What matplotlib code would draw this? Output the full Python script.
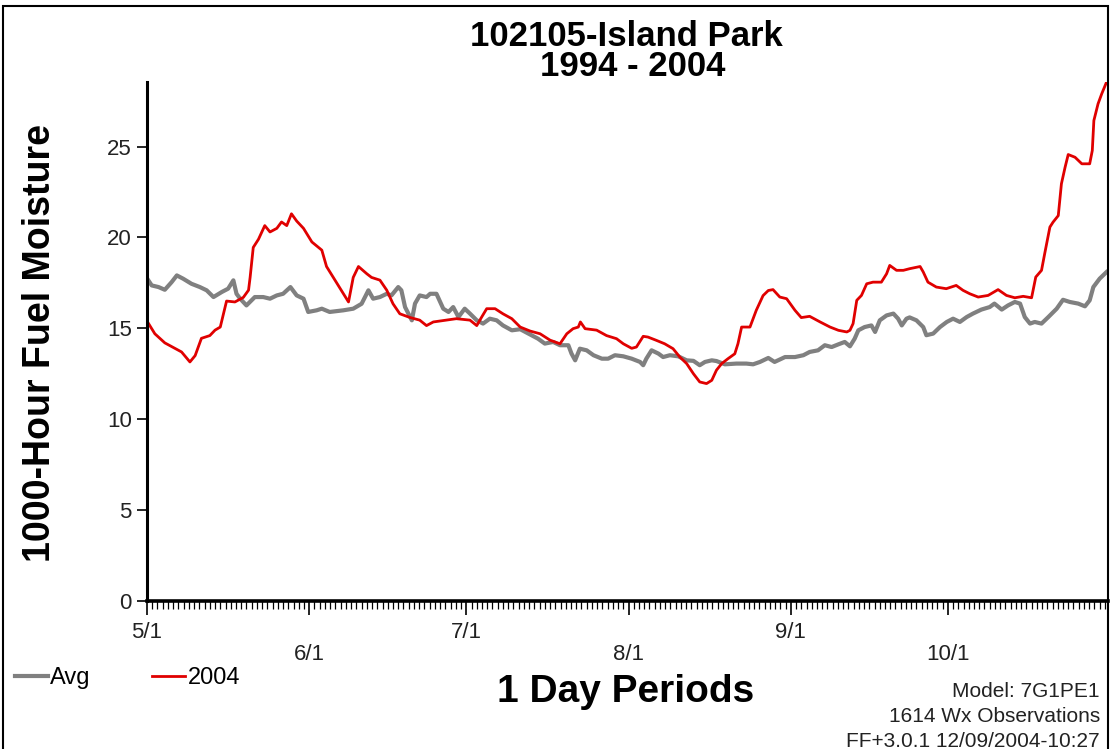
import matplotlib
matplotlib.use('Agg')
import matplotlib.pyplot as plt
import numpy as np
from matplotlib.patches import Rectangle

plt.rcParams['font.family'] = ['Liberation Sans', 'DejaVu Sans']

# days after May 1 and 1000-hour fuel moisture
avg_days = [0, 0.9, 2.2, 3.4, 4.7, 5.7, 6.9, 8.5, 10.1, 11.4, 12.7, 14.3, 15.5, 16.5,
            17.1, 17.8, 19, 20.6, 22.2, 23.5, 24.8, 26, 27.4, 28.6, 29.9, 30.8, 32.4,
            33.4, 34.9, 37.5, 39.4, 41, 42.3, 43.2, 44.5, 45.8, 46.7, 48, 48.6, 49.3,
            50.6, 51.2, 52.1, 53.4, 54.1, 55.3, 56.6, 57.6, 58.5, 59.5, 60.7, 61.7, 63,
            64.2, 65.5, 66.8, 68, 69.7, 71.3, 73.2, 74.7, 76, 77.6, 78.9, 80.5, 81.1,
            81.8, 82.7, 84, 85.3, 86.9, 88.1, 89.4, 91, 92.6, 94.2, 94.8, 95.4, 96.4,
            97.7, 98.6, 99.9, 101.5, 103.1, 104.4, 105.6, 106.6, 107.9, 108.8, 110.4,
            112.6, 114.5, 115.8, 117.1, 118.7, 119.9, 121.9, 123.8, 125.4, 126.6, 128.2,
            129.5, 130.8, 132.1, 133.3, 134.3, 135.2, 135.9, 137.1, 138.4, 139.1, 140,
            141.3, 142.6, 143.5, 144.2, 145.1, 145.7, 147, 148.3, 148.9, 150.2, 151.5,
            152.8, 154, 155.3, 156.6, 157.8, 159.4, 161, 161.9, 163.3, 164.5, 165.8,
            166.8, 167.7, 168.7, 169.6, 170.9, 172.2, 173.8, 175, 176.3, 177.9, 179.2,
            180.1, 180.8, 182, 183.3]
avg_vals = [17.75, 17.36, 17.27, 17.12, 17.54, 17.91, 17.73, 17.45, 17.27, 17.09, 16.72,
            17.0, 17.18, 17.64, 16.9, 16.63, 16.26, 16.72, 16.72, 16.63, 16.81, 16.9,
            17.27, 16.81, 16.63, 15.9, 15.99, 16.08, 15.9, 15.99, 16.08, 16.35, 17.09,
            16.63, 16.72, 16.9, 16.81, 17.27, 17.09, 16.17, 15.44, 16.36, 16.81, 16.72,
            16.9, 16.9, 16.08, 15.9, 16.17, 15.62, 16.08, 15.81, 15.44, 15.26, 15.53,
            15.44, 15.16, 14.89, 14.95, 14.66, 14.43, 14.16, 14.25, 14.07, 14.07, 13.61,
            13.24, 13.88, 13.79, 13.52, 13.33, 13.33, 13.52, 13.46, 13.33, 13.15, 12.97,
            13.33, 13.79, 13.61, 13.42, 13.52, 13.46, 13.24, 13.21, 12.97, 13.15, 13.24,
            13.2, 13.02, 13.06, 13.06, 13.02, 13.15, 13.37, 13.15, 13.42, 13.42, 13.52,
            13.7, 13.79, 14.07, 13.97, 14.12, 14.25, 14.01, 14.43, 14.89, 15.07, 15.16,
            14.8, 15.44, 15.71, 15.81, 15.53, 15.16, 15.53, 15.6, 15.44, 15.07, 14.62,
            14.71, 15.07, 15.35, 15.53, 15.35, 15.62, 15.81, 16.03, 16.17, 16.36, 16.03,
            16.26, 16.45, 16.36, 15.62, 15.26, 15.35, 15.26, 15.62, 16.08, 16.57, 16.45,
            16.36, 16.21, 16.54, 17.27, 17.73, 18.09]

y2004_days = [0, 1.5, 3.4, 5, 6.6, 8.2, 9.2, 10.4, 12, 13, 14, 15.2, 16.8, 18.4, 19.4,
              19.7, 20.3, 21.3, 22.5, 23.5, 24.8, 25.7, 26.7, 27.6, 28.6, 29.9, 31.5,
              33.4, 34.3, 35.6, 36.9, 38.5, 39.4, 40.4, 42, 42.9, 44.5, 45.8, 47, 48.3,
              50.2, 52.1, 53.4, 54.7, 57.2, 59.1, 61.7, 63, 63.9, 64.9, 66.5, 68, 69.7,
              71.3, 73.2, 75.1, 77, 78.9, 80.2, 81.4, 82.4, 82.8, 83.7, 85.9, 87.8, 89.7,
              91, 92.6, 93.5, 94.8, 95.7, 97.3, 98.9, 100.5, 101.8, 103.1, 104.4, 105.6,
              106.9, 107.9, 108.8, 109.8, 111, 112.3, 112.9, 113.6, 115.2, 116.4, 117.7,
              118.7, 119.6, 120.9, 122.2, 123.8, 125, 126.6, 128.6, 130.5, 132.1, 133.7,
              134.3, 134.9, 135.6, 136.5, 137.5, 138.7, 140.3, 141.3, 141.9, 143.2, 144.5,
              145.7, 147.7, 148.3, 149.2, 150.8, 152.7, 154.6, 155.9, 157.2, 158.8, 160.7,
              162.6, 164.2, 165.8, 167.4, 169, 169.8, 170.9, 171.5, 172.5, 173.1, 174.1,
              174.7, 175.4, 176, 177.3, 178.6, 180.1, 180.6, 180.9, 181.7, 182.4, 183.3]
y2004_vals = [15.4, 14.7, 14.2, 13.95, 13.7, 13.15, 13.5, 14.45, 14.6, 14.9, 15.07, 16.5,
              16.45, 16.7, 17.1, 17.8, 19.45, 19.9, 20.65, 20.3, 20.5, 20.85, 20.65, 21.3,
              20.9, 20.5, 19.75, 19.3, 18.4, 17.8, 17.2, 16.45, 17.8, 18.4, 18.0, 17.8,
              17.65, 17.1, 16.35, 15.8, 15.6, 15.45, 15.15, 15.35, 15.45, 15.53, 15.45,
              15.15, 15.6, 16.08, 16.08, 15.8, 15.53, 15.07, 14.85, 14.7, 14.35, 14.15,
              14.7, 14.98, 15.07, 15.35, 14.98, 14.9, 14.6, 14.43, 14.15, 13.9, 13.97,
              14.56, 14.52, 14.34, 14.15, 13.88, 13.42, 13.06, 12.5, 12.05, 11.96, 12.14,
              12.7, 13.06, 13.33, 13.6, 14.15, 15.07, 15.07, 15.99, 16.8, 17.08, 17.13,
              16.72, 16.63, 15.99, 15.59, 15.66, 15.35, 15.07, 14.89, 14.8, 14.89, 15.26,
              16.54, 16.81, 17.45, 17.54, 17.54, 18.0, 18.46, 18.19, 18.19, 18.28, 18.4,
              18.1, 17.54, 17.27, 17.18, 17.36, 17.09, 16.9, 16.72, 16.81, 17.13, 16.81,
              16.68, 16.76, 16.68, 17.82, 18.19, 19.1, 20.57, 20.84, 21.2, 22.95, 23.86,
              24.56, 24.41, 24.05, 24.05, 24.78, 26.43, 27.35, 27.9, 28.53]

month_days = [0, 31, 61, 92, 123, 153]
month_labels = ['5/1', '\n6/1', '7/1', '\n8/1', '9/1', '\n10/1']
y_ticks = [0, 5, 10, 15, 20, 25]

fig = plt.figure(figsize=(11.12, 7.49), dpi=100)
fig.patch.set_facecolor('white')
ax = fig.add_axes([147/1112, 1 - 601/749, (1108 - 147)/1112, (601 - 82)/749])

l_avg, = ax.plot(avg_days, avg_vals, color='#808080', lw=3, label='Avg')
l_2004, = ax.plot(y2004_days, y2004_vals, color='#e00000', lw=2, label='2004')

ax.set_xlim(0, 183.6)
ax.set_ylim(0, 28.55)
ax.spines['top'].set_visible(False)
ax.spines['right'].set_visible(False)
ax.spines['left'].set_linewidth(2.2)
ax.spines['bottom'].set_linewidth(2.6)

ax.set_yticks(y_ticks)
ax.set_yticklabels([str(v) for v in y_ticks])
ax.set_xticks(month_days)
ax.set_xticklabels(month_labels)
ax.set_xticks(np.arange(0, 184), minor=True)
ax.tick_params(axis='x', which='major', direction='out', length=10, width=1.2,
               labelsize=16, pad=5, labelcolor='#222222')
ax.tick_params(axis='x', which='minor', direction='out', length=6, width=0.9)
ax.tick_params(axis='y', which='major', direction='out', length=7, width=1.2,
               labelsize=16, pad=4, labelcolor='#222222')
for lbl in ax.get_xticklabels():
    lbl.set_linespacing(1.1)

fig.text(626/1112, 1 - 46/749, '102105-Island Park', ha='center', va='baseline',
         fontsize=25, fontweight='bold')
fig.text(633/1112, 1 - 76/749, '1994 - 2004', ha='center', va='baseline',
         fontsize=25, fontweight='bold')
fig.text(40/1112, 1 - 343/749, '1000-Hour Fuel Moisture', rotation=90, ha='center',
         va='center', fontsize=27, fontweight='bold')
fig.text(626/1112, 1 - 702/749, '1 Day Periods', ha='center', va='baseline',
         fontsize=28, fontweight='bold')

for i, line in enumerate(['Model: 7G1PE1', '1614 Wx Observations',
                          'FF+3.0.1 12/09/2004-10:27']):
    fig.text(1100/1112, 1 - (697 + 25*i)/749, line, ha='right', va='baseline',
             fontsize=15, color='#222222')

fig.legend(handles=[l_avg, l_2004], loc='center left',
           bbox_to_anchor=(15/1112, 1 - 678/749), ncol=2, frameon=False,
           fontsize=17, handlelength=1.4, handletextpad=0.1, columnspacing=2.6,
           borderpad=0, borderaxespad=0)

fig.patches.append(Rectangle((3/1112, -0.01), 1105/1112, 1 - 6/749 + 0.01,
                             transform=fig.transFigure, fill=False,
                             edgecolor='black', lw=1.5))

fig.savefig('out.png', dpi=100)
